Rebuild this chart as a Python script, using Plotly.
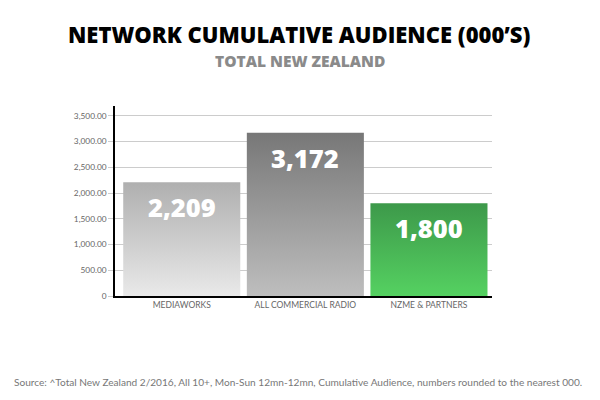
import plotly.graph_objects as go

# data
networks = ["MEDIAWORKS", "ALL COMMERCIAL RADIO", "NZME & PARTNERS"]
audience = [2209, 3172, 1800]
value_labels = ["2,209", "3,172", "1,800"]
y_ticks = [0, 500, 1000, 1500, 2000, 2500, 3000, 3500]
y_tick_labels = ["0", "500.00", "1,000.00", "1,500.00", "2,000.00", "2,500.00", "3,000.00", "3,500.00"]

# gradient per bar: (bottom, top)
bar_colors = [("#e9e9e9", "#afafaf"), ("#bebebe", "#777777"), ("#55d161", "#3d994a")]
bar_width = 0.947

fig = go.Figure()

for i, (name, val) in enumerate(zip(networks, audience)):
    left, right = i - bar_width / 2, i + bar_width / 2
    bottom_c, top_c = bar_colors[i]
    fig.add_trace(go.Scatter(
        x=[left, right, right, left, left],
        y=[0, 0, val, val, 0],
        mode="lines",
        line=dict(width=0),
        fill="toself",
        fillgradient=dict(type="vertical", colorscale=[[0, bottom_c], [1, top_c]]),
        name=name,
        hoverinfo="skip",
    ))
    fig.add_annotation(
        x=i, y=val, text=value_labels[i], showarrow=False,
        yanchor="middle", yshift=-25,
        font=dict(family="Open Sans", size=25.5, color="white", weight=800),
    )

fig.add_annotation(
    text="NETWORK CUMULATIVE AUDIENCE (000’S)", xref="paper", yref="paper",
    x=0.4907, y=1.38, showarrow=False, yanchor="middle",
    font=dict(family="Open Sans", size=22, color="black", weight=800),
)
fig.add_annotation(
    text="TOTAL NEW ZEALAND", xref="paper", yref="paper",
    x=0.4907, y=1.235, showarrow=False, yanchor="middle",
    font=dict(family="Open Sans", size=15.5, color="#8a8a8a", weight=800),
)
fig.add_annotation(
    text="Source: ^Total New Zealand 2/2016, All 10+, Mon-Sun 12mn-12mn, Cumulative Audience, numbers rounded to the nearest 000.",
    xref="paper", yref="paper", x=-0.273, y=-0.453, showarrow=False,
    xanchor="left", yanchor="middle",
    font=dict(family="Lato", size=10.1, color="#777777"),
)

# the page body adds an 8px offset, so left/top margins are reduced by 8
fig.update_layout(
    width=600, height=400,
    margin=dict(l=107, r=116, t=98, b=112),
    paper_bgcolor="white", plot_bgcolor="white",
    showlegend=False,
    xaxis=dict(
        range=[-0.54, 2.51], tickvals=[0, 1, 2], ticktext=networks,
        showgrid=False, zeroline=False, showline=True, linecolor="black", linewidth=1.5,
        ticks="", tickfont=dict(family="Lato", size=8.5, color="#666666"),
    ),
    yaxis=dict(
        range=[0, 3690], tickvals=y_ticks, ticktext=y_tick_labels,
        showgrid=True, gridcolor="#cccccc", gridwidth=1, zeroline=False,
        showline=True, linecolor="black", linewidth=1.5,
        ticks="outside", ticklen=5, tickcolor="#cccccc",
        tickfont=dict(family="Lato", size=8.3, color="#666666"),
    ),
)

fig.write_html("out.html")
